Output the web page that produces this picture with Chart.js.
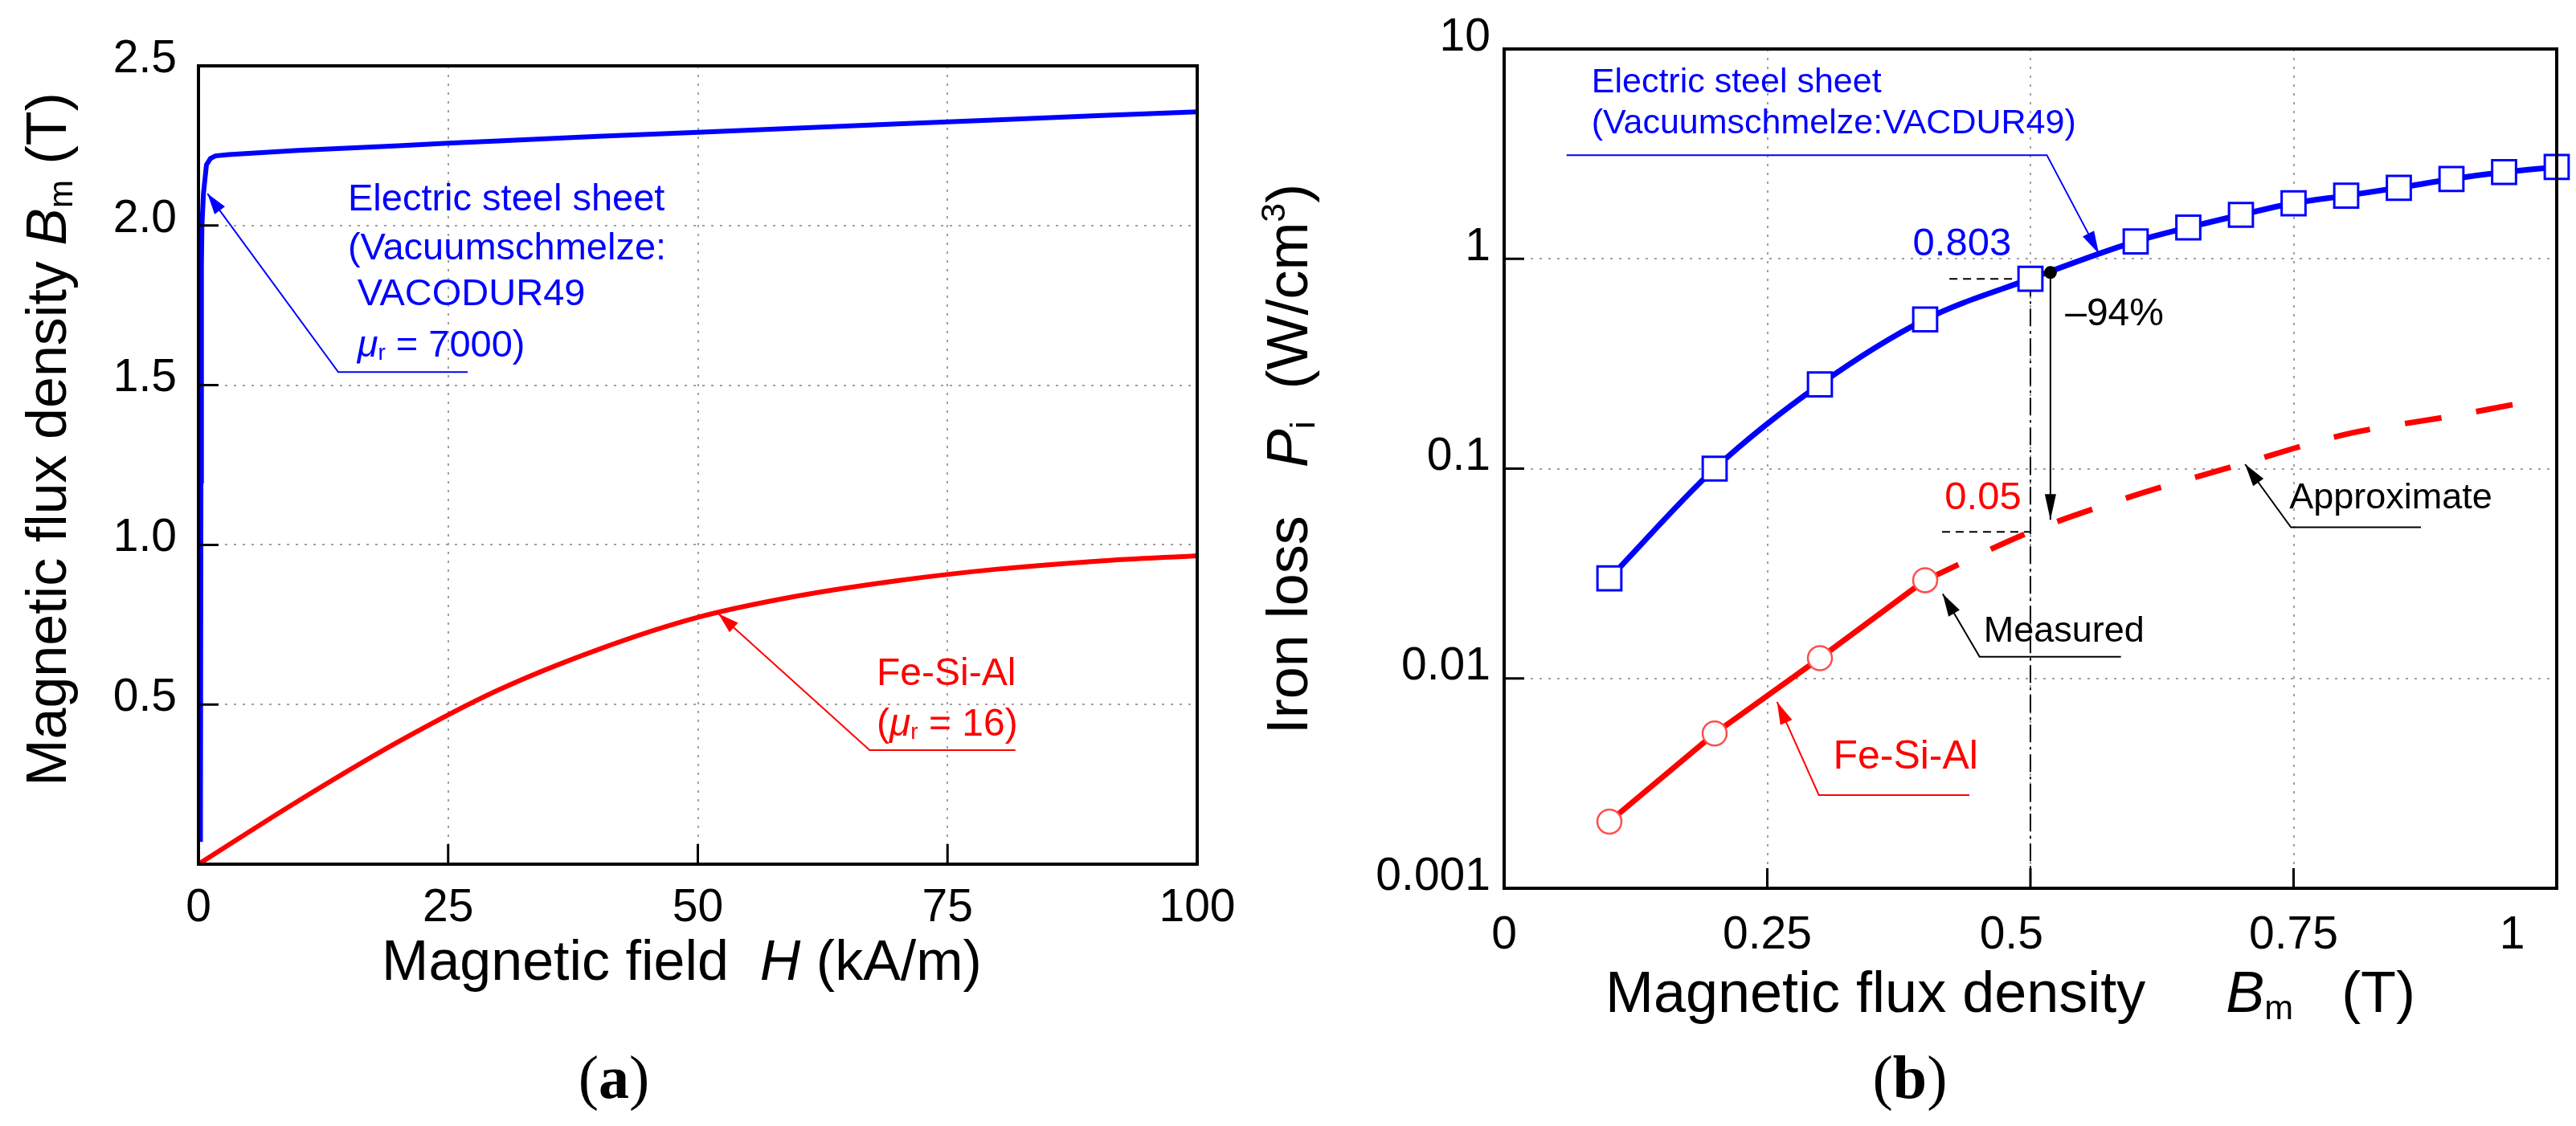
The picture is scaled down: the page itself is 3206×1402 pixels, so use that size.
<!DOCTYPE html>
<html>
<head>
<meta charset="utf-8">
<script src="https://cdn.jsdelivr.net/npm/chart.js@4.4.1/dist/chart.umd.min.js"></script>
<style>
html, body { margin: 0; padding: 0; background: #fff; }
#wrap { position: relative; width: 3206px; height: 1402px; overflow: hidden; }
canvas { position: absolute; top: 0; }
</style>
</head>
<body>
<div id="wrap">
  <canvas id="chartA" width="1600" height="1402" style="left:0;width:1600px;height:1402px"></canvas>
  <canvas id="chartB" width="1676" height="1402" style="left:1530px;width:1676px;height:1402px"></canvas>
</div>
<script>
// (a) B-H curves, H in kA/m, B in T
const hSteel = [0.2, 0.25, 0.3, 0.35, 0.5, 0.8, 1.2, 1.7, 3, 6, 10, 20, 25, 30, 40, 50, 60, 70, 80, 90, 100];
const bSteel = [0.07, 1.2, 1.88, 2.0, 2.1, 2.19, 2.21, 2.218, 2.222, 2.228, 2.235, 2.25, 2.258, 2.265, 2.279, 2.292, 2.305, 2.318, 2.331, 2.344, 2.356];
const hFeSiAl = [0, 10, 20, 30, 40, 50, 60, 70, 80, 90, 100];
const bFeSiAl = [0, 0.198, 0.383, 0.545, 0.672, 0.773, 0.84, 0.888, 0.924, 0.949, 0.966];
const hTicks = [0, 25, 50, 75, 100];
const bTicks = [0.5, 1.0, 1.5, 2.0, 2.5];

// (b) iron loss vs flux density, Bm in T, loss in W/cm3
const bmSteel = [0.1, 0.2, 0.3, 0.4, 0.5, 0.6, 0.65, 0.7, 0.75, 0.8, 0.85, 0.9, 0.95, 1.0];
const lossSteel = [0.03, 0.1, 0.252, 0.514, 0.803, 1.21, 1.41, 1.62, 1.84, 2.0, 2.18, 2.4, 2.59, 2.74];
const bmMeasured = [0.1, 0.2, 0.3, 0.4];
const lossMeasured = [0.00208, 0.00547, 0.0125, 0.0294];
const bmApprox = [0.4, 0.5, 0.6, 0.7, 0.8, 0.9, 0.985];
const lossApprox = [0.0294, 0.05, 0.0748, 0.105, 0.146, 0.178, 0.214];
const bmTicks = [0, 0.25, 0.5, 0.75, 1];
// the original sets some of these labels a little left of their ticks
const bmTickLabels = ['0', '0.25', '0.5   ', '0.75', '1       '];
const lossTicks = [0.001, 0.01, 0.1, 1, 10];

const BLUE = '#0000ff';
const RED = '#ff0000';
const GRID = '#a0a0a0';
const SANS = '"Liberation Sans", Arial, sans-serif';
const SERIF = '"Liberation Serif", "Times New Roman", serif';

function pts(xs, ys) {
  return xs.map((x, i) => ({ x: x, y: ys[i] }));
}

function font(size, style) {
  return (style ? style + ' ' : '') + size + 'px ' + SANS;
}

// draw a row of text pieces (italic / sub / sup) one after another
function drawRuns(ctx, runs, x, y, align) {
  let w = 0;
  runs.forEach(r => {
    ctx.font = r.font;
    r.w = ctx.measureText(r.text).width;
    w += r.w;
  });
  let cx = align === 'center' ? x - w / 2 : x;
  ctx.textAlign = 'left';
  runs.forEach(r => {
    ctx.font = r.font;
    ctx.fillText(r.text, cx, y + (r.dy || 0));
    cx += r.w;
  });
}

function arrowLine(ctx, p, color, width, headLen, headW) {
  ctx.save();
  ctx.strokeStyle = color;
  ctx.fillStyle = color;
  ctx.lineWidth = width;
  ctx.beginPath();
  ctx.moveTo(p[0][0], p[0][1]);
  for (let i = 1; i < p.length; i++) ctx.lineTo(p[i][0], p[i][1]);
  ctx.stroke();
  const a = p[p.length - 2], b = p[p.length - 1];
  const ang = Math.atan2(b[1] - a[1], b[0] - a[0]);
  const c = Math.cos(ang), s = Math.sin(ang);
  ctx.beginPath();
  ctx.moveTo(b[0], b[1]);
  ctx.lineTo(b[0] - headLen * c + headW * s, b[1] - headLen * s - headW * c);
  ctx.lineTo(b[0] - headLen * c - headW * s, b[1] - headLen * s + headW * c);
  ctx.closePath();
  ctx.fill();
  ctx.restore();
}

function dashLine(ctx, p1, p2, dash) {
  ctx.save();
  ctx.strokeStyle = '#000';
  ctx.lineWidth = 2;
  ctx.setLineDash(dash);
  ctx.beginPath();
  ctx.moveTo(p1[0], p1[1]);
  ctx.lineTo(p2[0], p2[1]);
  ctx.stroke();
  ctx.restore();
}

// data value -> pixel
function P(chart, x, y) {
  return [chart.scales.x.getPixelForValue(x), chart.scales.y.getPixelForValue(y)];
}

function frameAndTicks(chart, xTicks, yTicks) {
  const ctx = chart.ctx;
  const a = chart.chartArea;
  ctx.save();
  ctx.strokeStyle = '#000';
  ctx.lineWidth = 3;
  ctx.beginPath();
  xTicks.slice(1, -1).forEach(v => {
    const x = chart.scales.x.getPixelForValue(v);
    ctx.moveTo(x, a.bottom);
    ctx.lineTo(x, a.bottom - 25);
  });
  yTicks.forEach(v => {
    if (v === yTicks[yTicks.length - 1]) return;
    const y = chart.scales.y.getPixelForValue(v);
    if (y >= a.bottom - 1) return;
    ctx.moveTo(a.left, y);
    ctx.lineTo(a.left + 25, y);
  });
  ctx.stroke();
  ctx.lineWidth = 4;
  ctx.strokeRect(a.left, a.top, a.right - a.left, a.bottom - a.top);
  ctx.restore();
}

function scaleOpts(ticks, fmt, pad, offset) {
  return {
    afterBuildTicks: s => { s.ticks = ticks.map(v => ({ value: v })); },
    grid: { color: GRID, lineWidth: 2, drawTicks: false },
    border: { display: false, dash: [3, 8] },
    ticks: {
      autoSkip: false, maxRotation: 0, color: '#000',
      font: { family: SANS, size: 57 },
      padding: pad, labelOffset: offset,
      callback: fmt
    }
  };
}

// fixed box sizes so the plot area lands where it is in the figure
function fixHeight(h) {
  return s => { s.height = h; s.paddingLeft = 0; s.paddingRight = 0; };
}
function fixWidth(w) {
  return s => { s.width = w; s.paddingTop = 0; s.paddingBottom = 0; };
}

const panelA = {
  id: 'panelA',
  afterDatasetsDraw(chart) {
    const ctx = chart.ctx;
    ctx.save();
    ctx.textBaseline = 'middle';
    // steel annotation
    ctx.fillStyle = BLUE;
    let p = P(chart, 14.96, 2.08);
    drawRuns(ctx, [{ text: 'Electric steel sheet', font: font(47) }], p[0], p[1], 'left');
    p = P(chart, 14.96, 1.926);
    drawRuns(ctx, [{ text: '(Vacuumschmelze:', font: font(47) }], p[0], p[1], 'left');
    p = P(chart, 15.9, 1.783);
    drawRuns(ctx, [{ text: 'VACODUR49', font: font(47) }], p[0], p[1], 'left');
    p = P(chart, 15.9, 1.622);
    drawRuns(ctx, [
      { text: 'μ', font: font(47, 'italic') },
      { text: 'r', font: font(28), dy: 9 },
      { text: ' = 7000)', font: font(47) }
    ], p[0], p[1], 'left');
    arrowLine(ctx, [P(chart, 26.95, 1.541), P(chart, 14, 1.541), P(chart, 0.9, 2.10)], BLUE, 2, 26, 8);
    // Fe-Si-Al annotation
    ctx.fillStyle = RED;
    p = P(chart, 67.9, 0.593);
    drawRuns(ctx, [{ text: 'Fe-Si-Al', font: font(48) }], p[0], p[1], 'left');
    p = P(chart, 67.9, 0.435);
    drawRuns(ctx, [
      { text: '(', font: font(48) },
      { text: 'μ', font: font(48, 'italic') },
      { text: 'r', font: font(28), dy: 9 },
      { text: ' = 16)', font: font(48) }
    ], p[0], p[1], 'left');
    arrowLine(ctx, [P(chart, 81.8, 0.357), P(chart, 67.2, 0.357), P(chart, 52.05, 0.785)], RED, 2, 26, 8);
    ctx.restore();
  },
  afterDraw(chart) {
    frameAndTicks(chart, hTicks, [0].concat(bTicks));
    const ctx = chart.ctx;
    const a = chart.chartArea;
    ctx.save();
    ctx.fillStyle = '#000';
    ctx.textBaseline = 'alphabetic';
    drawRuns(ctx, [
      { text: 'Magnetic field  ', font: font(70) },
      { text: 'H', font: font(70, 'italic') },
      { text: ' (kA/m)', font: font(70) }
    ], (a.left + a.right) / 2 - 20, a.bottom + 144, 'center');
    ctx.save();
    ctx.translate(a.left - 165, (a.top + a.bottom) / 2 - 32);
    ctx.rotate(-Math.PI / 2);
    drawRuns(ctx, [
      { text: 'Magnetic flux density ', font: font(70) },
      { text: 'B', font: font(70, 'italic') },
      { text: 'm', font: font(42), dy: 8 },
      { text: ' (T)', font: font(70) }
    ], 0, 0, 'center');
    ctx.restore();
    drawRuns(ctx, [
      { text: '(', font: '76px ' + SERIF },
      { text: 'a', font: 'bold 76px ' + SERIF },
      { text: ')', font: '76px ' + SERIF }
    ], 764, 1367, 'center');
    ctx.restore();
  }
};

const panelB = {
  id: 'panelB',
  beforeDatasetsDraw(chart) {
    const ctx = chart.ctx;
    dashLine(ctx, P(chart, 0.5, 0.803), P(chart, 0.5, 0.001), [22, 6, 3, 6]);
    dashLine(ctx, P(chart, 0.423, 0.803), P(chart, 0.5, 0.803), [10, 7]);
    dashLine(ctx, P(chart, 0.416, 0.05), P(chart, 0.5, 0.05), [10, 7]);
  },
  afterDatasetsDraw(chart) {
    const ctx = chart.ctx;
    ctx.save();
    ctx.textBaseline = 'middle';
    ctx.fillStyle = BLUE;
    let p = P(chart, 0.083, 6.9);
    drawRuns(ctx, [{ text: 'Electric steel sheet', font: font(43) }], p[0], p[1], 'left');
    p = P(chart, 0.083, 4.4);
    drawRuns(ctx, [{ text: '(Vacuumschmelze:VACDUR49)', font: font(43) }], p[0], p[1], 'left');
    arrowLine(ctx, [P(chart, 0.0593, 3.12), P(chart, 0.5156, 3.12), P(chart, 0.565, 1.06)], BLUE, 2, 28, 8);
    p = P(chart, 0.435, 1.17);
    drawRuns(ctx, [{ text: '0.803', font: font(49) }], p[0], p[1], 'center');
    // reduction arrow
    const d = P(chart, 0.519, 0.86);
    ctx.fillStyle = '#000';
    ctx.beginPath();
    ctx.arc(d[0], d[1], 8, 0, Math.PI * 2);
    ctx.fill();
    arrowLine(ctx, [d, P(chart, 0.519, 0.057)], '#000', 2, 32, 7);
    p = P(chart, 0.533, 0.544);
    drawRuns(ctx, [{ text: '–94%', font: font(48) }], p[0], p[1], 'left');
    ctx.fillStyle = RED;
    p = P(chart, 0.455, 0.0722);
    drawRuns(ctx, [{ text: '0.05', font: font(49) }], p[0], p[1], 'center');
    ctx.fillStyle = '#000';
    p = P(chart, 0.746, 0.0722);
    drawRuns(ctx, [{ text: 'Approximate', font: font(45) }], p[0], p[1], 'left');
    arrowLine(ctx, [P(chart, 0.871, 0.0525), P(chart, 0.7475, 0.0525), P(chart, 0.704, 0.105)], '#000', 2, 28, 8);
    p = P(chart, 0.4555, 0.0167);
    drawRuns(ctx, [{ text: 'Measured', font: font(45) }], p[0], p[1], 'left');
    arrowLine(ctx, [P(chart, 0.586, 0.0127), P(chart, 0.4517, 0.0127), P(chart, 0.4167, 0.0253)], '#000', 2, 28, 8);
    ctx.fillStyle = RED;
    p = P(chart, 0.3125, 0.00421);
    drawRuns(ctx, [{ text: 'Fe-Si-Al', font: font(50) }], p[0], p[1], 'left');
    arrowLine(ctx, [P(chart, 0.442, 0.00278), P(chart, 0.299, 0.00278), P(chart, 0.2593, 0.00773)], RED, 2, 28, 8);
    ctx.restore();
  },
  afterDraw(chart) {
    frameAndTicks(chart, bmTicks, lossTicks);
    const ctx = chart.ctx;
    const a = chart.chartArea;
    ctx.save();
    ctx.fillStyle = '#000';
    ctx.textBaseline = 'alphabetic';
    drawRuns(ctx, [
      { text: 'Magnetic flux density     ', font: font(72) },
      { text: 'B', font: font(72, 'italic') },
      { text: 'm', font: font(43), dy: 9 },
      { text: '   (T)', font: font(72) }
    ], (a.left + a.right) / 2 - 25, a.bottom + 154, 'center');
    ctx.save();
    ctx.translate(a.left - 245, (a.top + a.bottom) / 2 - 12);
    ctx.rotate(-Math.PI / 2);
    drawRuns(ctx, [
      { text: 'Iron loss   ', font: font(72) },
      { text: 'P', font: font(72, 'italic') },
      { text: 'i', font: font(43), dy: 9 },
      { text: '  (W/cm', font: font(72) },
      { text: '3', font: font(43), dy: -28 },
      { text: ')', font: font(72) }
    ], 0, 0, 'center');
    ctx.restore();
    drawRuns(ctx, [
      { text: '(', font: '76px ' + SERIF },
      { text: 'b', font: 'bold 76px ' + SERIF },
      { text: ')', font: '76px ' + SERIF }
    ], 847, 1367, 'center');
    ctx.restore();
  }
};

const chartA = new Chart(document.getElementById('chartA'), {
  type: 'line',
  data: {
    datasets: [
      { data: pts(hSteel, bSteel), borderColor: BLUE, borderWidth: 6, pointRadius: 0, tension: 0 },
      { data: pts(hFeSiAl, bFeSiAl), borderColor: RED, borderWidth: 6, pointRadius: 0, tension: 0.4, cubicInterpolationMode: 'monotone' }
    ]
  },
  options: {
    responsive: false,
    animation: false,
    devicePixelRatio: 1,
    layout: { padding: { top: 82, right: 110, left: 0, bottom: 0 } },
    plugins: { legend: { display: false }, tooltip: { enabled: false } },
    scales: {
      x: Object.assign({ type: 'linear', min: 0, max: 100, afterFit: fixHeight(326) },
        scaleOpts(hTicks, v => String(v), 21, 0)),
      y: Object.assign({ type: 'linear', min: 0, max: 2.5, afterFit: fixWidth(247) },
        scaleOpts(bTicks, v => v.toFixed(1), 27, -8))
    }
  },
  plugins: [panelA]
});

const chartB = new Chart(document.getElementById('chartB'), {
  type: 'line',
  data: {
    datasets: [
      {
        data: pts(bmSteel, lossSteel), borderColor: BLUE, borderWidth: 7, tension: 0.4,
        cubicInterpolationMode: 'monotone', clip: false,
        pointStyle: 'rect', pointRadius: 21, pointBorderWidth: 3,
        pointBorderColor: BLUE, pointBackgroundColor: '#fff'
      },
      {
        data: pts(bmMeasured, lossMeasured), borderColor: RED, borderWidth: 7, tension: 0,
        pointStyle: 'circle', pointRadius: 15, pointBorderWidth: 2.5,
        pointBorderColor: '#ff4d4d', pointBackgroundColor: '#fff'
      },
      {
        data: pts(bmApprox, lossApprox), borderColor: RED, borderWidth: 7, tension: 0.3,
        borderDash: [46, 44], pointRadius: 0
      }
    ]
  },
  options: {
    responsive: false,
    animation: false,
    devicePixelRatio: 1,
    layout: { padding: { top: 61, right: 19, left: 0, bottom: 0 } },
    plugins: { legend: { display: false }, tooltip: { enabled: false } },
    scales: {
      x: Object.assign({ type: 'linear', min: 0, max: 1, afterFit: fixHeight(296) },
        scaleOpts(bmTicks, (v, i) => bmTickLabels[i], 25, 0)),
      y: Object.assign({ type: 'logarithmic', min: 0.001, max: 10, afterFit: fixWidth(342) },
        scaleOpts(lossTicks, v => String(v), 17, -14))
    }
  },
  plugins: [panelB]
});
</script>
</body>
</html>
